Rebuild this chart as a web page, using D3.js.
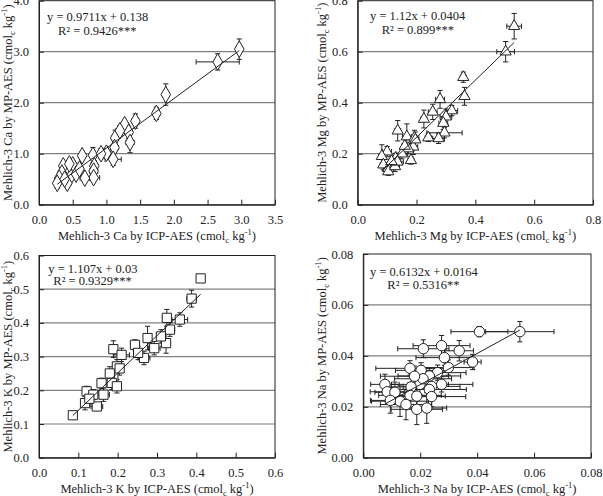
<!DOCTYPE html>
<html><head><meta charset="utf-8">
<script src="https://cdn.jsdelivr.net/npm/d3@7"></script>
<style>body{margin:0;background:#fff}svg{display:block}svg text{font-family:'Liberation Serif','Times New Roman',Times,serif !important;fill:#222}</style>
</head><body><svg id="c" width="603" height="496" font-family="Liberation Serif, Times New Roman, serif"></svg>
<script>
// ---------- Data ----------
const caX   = [2.97,2.65,1.88,1.74,1.43,1.27,1.33,1.35,1.13,1.12,1.00,1.10,0.80,0.64,0.82,0.81,0.81,0.68,0.50,0.42,0.36,0.34,0.47,0.30,0.42,0.27,0.55,0.60,0.38,0.45,1.20,0.92];
const caY   = [3.05,2.80,2.16,1.79,1.64,1.57,1.42,1.22,1.31,1.12,1.01,0.89,0.97,0.96,0.76,0.66,0.53,0.52,0.78,0.68,0.76,0.62,0.55,0.52,0.42,0.42,0.60,0.70,0.50,0.80,1.45,1.00];
const caXErr= [0.05,0.32,0.04,0.05,0.05,0.05,0.05,0.06,0.05,0.06,0.06,0.12,0.05,0.05,0.05,0.06,0.09,0.07,0.05,0.05,0.04,0.04,0.06,0.04,0.05,0.04,0.05,0.05,0.05,0.05,0.06,0.05];
const caYErr= [0.20,0.16,0.21,0.12,0.14,0.06,0.12,0.20,0.15,0.10,0.10,0.12,0.15,0.08,0.10,0.08,0.06,0.05,0.08,0.10,0.08,0.08,0.06,0.06,0.05,0.10,0.06,0.07,0.06,0.07,0.10,0.10];

const mgX   = [0.532,0.503,0.359,0.363,0.280,0.255,0.225,0.320,0.300,0.291,0.295,0.275,0.240,0.136,0.167,0.193,0.189,0.172,0.181,0.150,0.129,0.100,0.082,0.087,0.104,0.104,0.127,0.135,0.160,0.196,0.115];
const mgY   = [0.700,0.600,0.500,0.425,0.413,0.364,0.336,0.369,0.345,0.320,0.282,0.260,0.263,0.290,0.267,0.262,0.227,0.220,0.174,0.200,0.182,0.208,0.190,0.157,0.143,0.130,0.150,0.168,0.230,0.255,0.170];
const mgXErr= [0.025,0.030,0.010,0.010,0.015,0.015,0.010,0.020,0.020,0.015,0.060,0.020,0.010,0.010,0.015,0.015,0.015,0.020,0.010,0.020,0.015,0.015,0.010,0.010,0.015,0.010,0.015,0.020,0.010,0.010,0.010];
const mgYErr= [0.050,0.040,0.020,0.035,0.035,0.030,0.035,0.020,0.030,0.025,0.020,0.020,0.015,0.040,0.050,0.030,0.030,0.020,0.015,0.020,0.020,0.020,0.045,0.020,0.015,0.015,0.020,0.020,0.030,0.030,0.020];

const kX    = [0.411,0.388,0.358,0.325,0.333,0.323,0.293,0.310,0.276,0.267,0.244,0.252,0.189,0.210,0.198,0.189,0.185,0.198,0.159,0.164,0.147,0.121,0.117,0.138,0.086,0.205,0.180,0.128];
const kY    = [0.532,0.472,0.410,0.415,0.380,0.340,0.325,0.360,0.355,0.296,0.335,0.311,0.322,0.305,0.271,0.241,0.222,0.212,0.221,0.187,0.152,0.197,0.162,0.187,0.126,0.265,0.250,0.175];
const kXErr = [0.005,0.012,0.020,0.010,0.012,0.010,0.015,0.010,0.010,0.015,0.010,0.010,0.010,0.020,0.010,0.010,0.010,0.010,0.010,0.015,0.015,0.010,0.010,0.010,0.005,0.010,0.010,0.010];
const kYErr = [0.010,0.025,0.020,0.025,0.020,0.030,0.020,0.020,0.035,0.020,0.015,0.020,0.025,0.020,0.020,0.020,0.020,0.020,0.015,0.020,0.010,0.015,0.020,0.015,0.005,0.020,0.020,0.015];

const naX   = [0.0550,0.0408,0.0337,0.0275,0.0211,0.0285,0.0384,0.0299,0.0261,0.0232,0.0203,0.0164,0.0275,0.0240,0.0232,0.0199,0.0168,0.0076,0.0084,0.0111,0.0164,0.0188,0.0240,0.0129,0.0150,0.0188,0.0223,0.0095,0.0210,0.0180];
const naY   = [0.0495,0.0495,0.0420,0.0440,0.0428,0.0393,0.0376,0.0354,0.0334,0.0321,0.0343,0.0351,0.0288,0.0280,0.0268,0.0288,0.0278,0.0288,0.0259,0.0257,0.0245,0.0242,0.0240,0.0222,0.0209,0.0190,0.0195,0.0225,0.0310,0.0320];
const naXErr= [0.012,0.010,0.005,0.010,0.009,0.010,0.003,0.009,0.010,0.011,0.009,0.012,0.011,0.010,0.013,0.010,0.010,0.005,0.006,0.007,0.011,0.010,0.012,0.010,0.009,0.009,0.007,0.007,0.010,0.012];
const naYErr= [0.004,0.002,0.004,0.004,0.0035,0.003,0.003,0.003,0.003,0.003,0.003,0.003,0.003,0.003,0.004,0.004,0.004,0.004,0.004,0.004,0.005,0.005,0.004,0.006,0.006,0.006,0.006,0.005,0.004,0.004];

const caTicksX = [0,0.5,1,1.5,2,2.5,3,3.5], caTicksY = [0,1,2,3,4];
const mgTicksX = [0,0.2,0.4,0.6,0.8],      mgTicksY = [0,0.2,0.4,0.6,0.8];
const kTicksX  = [0,0.1,0.2,0.3,0.4,0.5,0.6], kTicksY = [0,0.1,0.2,0.3,0.4,0.5,0.6];
const naTicksX = [0,0.02,0.04,0.06,0.08],  naTicksY = [0,0.02,0.04,0.06,0.08];

const fits = [
  {slope:0.9711, icpt:0.138,  eq:"y = 0.9711x + 0.138",  r2:"R² = 0.9426***"},
  {slope:1.12,   icpt:0.0404, eq:"y = 1.12x + 0.0404",   r2:"R² = 0.899***"},
  {slope:1.107,  icpt:0.03,   eq:"y = 1.107x + 0.03",    r2:"R² = 0.9329***"},
  {slope:0.6132, icpt:0.0164, eq:"y = 0.6132x + 0.0164", r2:"R² = 0.5316**"}
];
const elements = ["Ca","Mg","K","Na"];

// ---------- Layout ----------
const FF = "'Liberation Serif','Times New Roman',Times,serif";
const panels = [
  {X:caX,Y:caY,XE:caXErr,YE:caYErr, tx:caTicksX, ty:caTicksY, fmt:".1f", shape:"diamond",
   L:39,R:275,T:0.7,B:204.7, eqX:47,eqY:21, r2X:58,r2Y:35, ytX:8},
  {X:mgX,Y:mgY,XE:mgXErr,YE:mgYErr, tx:mgTicksX, ty:mgTicksY, fmt:".1f", shape:"triangle",
   L:357.7,R:593,T:0.7,B:204.7, eqX:370,eqY:20, r2X:381.7,r2Y:33.5, ytX:322},
  {X:kX,Y:kY,XE:kXErr,YE:kYErr, tx:kTicksX, ty:kTicksY, fmt:".1f", shape:"square",
   L:39,R:275,T:255.5,B:457.7, eqX:48.3,eqY:272.5, r2X:53.3,r2Y:284.5, ytX:8},
  {X:naX,Y:naY,XE:naXErr,YE:naYErr, tx:naTicksX, ty:naTicksY, fmt:".2f", shape:"circle",
   L:363.3,R:591,T:254,B:457.7, eqX:370,eqY:276, r2X:387.3,r2Y:289, ytX:322}
];

const svg = d3.select("#c");
const ink = "#222";

panels.forEach((p,i)=>{
  const fit = fits[i], el = elements[i];
  const x = d3.scaleLinear().domain(d3.extent(p.tx)).range([p.L,p.R]);
  const y = d3.scaleLinear().domain(d3.extent(p.ty)).range([p.B,p.T]);
  const g = svg.append("g");

  g.selectAll("line.grid").data(p.ty.slice(1,-1)).join("line")
    .attr("x1",p.L).attr("x2",p.R).attr("y1",d=>y(d)).attr("y2",d=>y(d))
    .attr("stroke","#808080").attr("stroke-width",1.2);

  g.append("rect").attr("x",p.L).attr("y",p.T).attr("width",p.R-p.L).attr("height",p.B-p.T)
    .attr("fill","none").attr("stroke",ink).attr("stroke-width",1);

  const fmt = d3.format(p.fmt);
  const xa = g.append("g").attr("transform",`translate(0,${p.B})`)
    .call(d3.axisBottom(x).tickValues(p.tx).tickFormat(fmt).tickSizeInner(-5).tickSizeOuter(0).tickPadding(10));
  const ya = g.append("g").attr("transform",`translate(${p.L},0)`)
    .call(d3.axisLeft(y).tickValues(p.ty).tickFormat(fmt).tickSizeInner(-5).tickSizeOuter(0).tickPadding(10));
  [xa,ya].forEach(a=>{
    a.attr("font-family",FF).attr("font-size",12.5);
    a.select(".domain").attr("stroke",ink);
    a.selectAll(".tick line").attr("stroke",ink);
    a.selectAll(".tick text").attr("fill",ink);
  });

  const title = (sel, name)=>{
    sel.append("tspan").text(name);
    sel.append("tspan").attr("font-size",8.5).attr("dy",3).text("c");
    sel.append("tspan").attr("dy",-3).text(" kg");
    sel.append("tspan").attr("font-size",8.5).attr("dy",-5).text("-1");
    sel.append("tspan").attr("dy",5).text(")");
  };
  const xt = g.append("text").attr("x",(p.L+p.R)/2).attr("y",p.B+35).attr("text-anchor","middle")
    .attr("font-size",12.5).attr("font-family",FF);
  title(xt, `Mehlich-3 ${el} by ICP-AES (cmol`);

  const cy = (p.T+p.B)/2;
  const yt = g.append("text").attr("transform",`translate(${p.ytX+4},${cy}) rotate(-90)`)
    .attr("text-anchor","middle").attr("font-size",12.5).attr("font-family",FF);
  title(yt, `Mehlich-3 ${el} by MP-AES (cmol`);

  const pts = p.X.map((v,k)=>({x:v,y:p.Y[k],xe:p.XE[k],ye:p.YE[k]}));
  const cap = 2.6;
  const eb = g.append("g").attr("stroke",ink).attr("stroke-width",1).attr("fill","none");
  pts.forEach(d=>{
    const px=x(d.x), py=y(d.y);
    const x0=x(d.x-d.xe), x1=x(d.x+d.xe), y0=y(d.y-d.ye), y1=y(d.y+d.ye);
    eb.append("path").attr("d",
      `M${x0},${py}H${x1}M${x0},${py-cap}V${py+cap}M${x1},${py-cap}V${py+cap}`+
      `M${px},${y0}V${y1}M${px-cap},${y0}H${px+cap}M${px-cap},${y1}H${px+cap}`);
  });

  const sym = {diamond:d3.symbolDiamond, triangle:d3.symbolTriangle, square:d3.symbolSquare, circle:d3.symbolCircle}[p.shape];
  const size = {diamond:80, triangle:55, square:85, circle:85}[p.shape];
  g.selectAll("path.pt").data(pts).join("path")
    .attr("transform",d=>`translate(${x(d.x)},${y(d.y)})`)
    .attr("d",d3.symbol(sym,size)).attr("fill","#fff").attr("stroke",ink).attr("stroke-width",1);

  const [xmin,xmax] = d3.extent(p.X);
  g.append("line").attr("x1",x(xmin)).attr("y1",y(fit.slope*xmin+fit.icpt))
    .attr("x2",x(xmax)).attr("y2",y(fit.slope*xmax+fit.icpt))
    .attr("stroke",ink).attr("stroke-width",1);

  g.append("text").attr("x",p.eqX).attr("y",p.eqY).attr("font-size",12.5).attr("font-family",FF).text(fit.eq);
  g.append("text").attr("x",p.r2X).attr("y",p.r2Y).attr("font-size",12.5).attr("font-family",FF).text(fit.r2);
});
</script></body></html>
